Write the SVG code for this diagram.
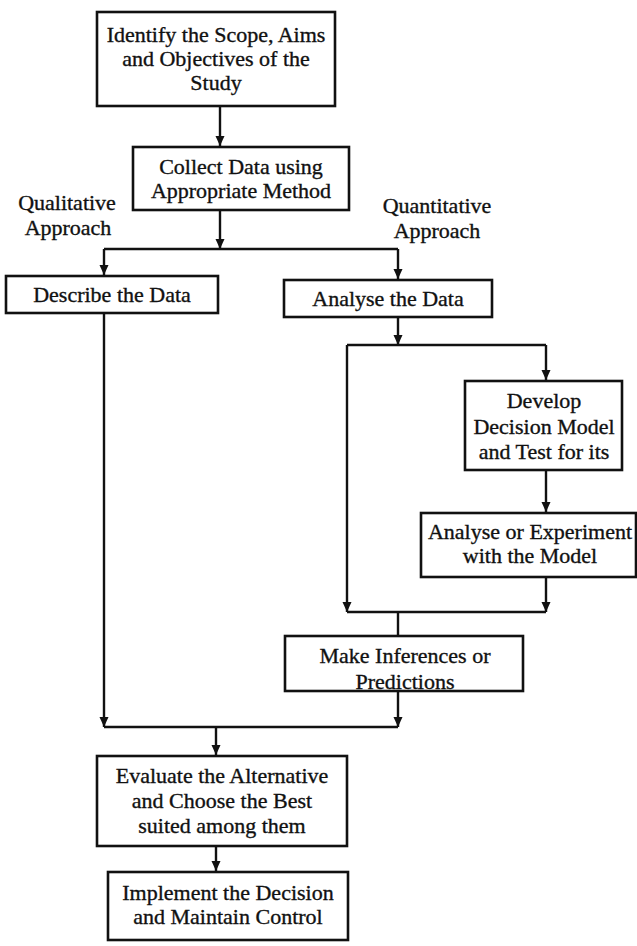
<svg xmlns="http://www.w3.org/2000/svg" width="637" height="946" viewBox="0 0 637 946">
<defs>
<style>
.box{fill:#fff;stroke:#111;stroke-width:2.6}
.t{font-family:"Liberation Serif","Times New Roman",serif;font-size:22px;fill:#111;stroke:#111;stroke-width:0.35;text-anchor:middle}
.c{fill:none;stroke:#111;stroke-width:2.4}
</style>
<marker id="ah" viewBox="0 0 10 10" refX="10" refY="5" markerWidth="10" markerHeight="10" markerUnits="userSpaceOnUse" orient="auto">
<path d="M0,0.5 L10,5 L0,9.5 z" fill="#111"/>
</marker>
</defs>
<rect width="637" height="946" fill="#fff"/>
<g id="connectors">
<path class="c" d="M220,106 V146" marker-end="url(#ah)"/>
<path class="c" d="M220,210 V249" marker-end="url(#ah)"/>
<path class="c" d="M104,249 H398"/>
<path class="c" d="M104,249 V275" marker-end="url(#ah)"/>
<path class="c" d="M398,249 V279" marker-end="url(#ah)"/>
<path class="c" d="M398,317 V345" marker-end="url(#ah)"/>
<path class="c" d="M347,345 H546"/>
<path class="c" d="M546,345 V380" marker-end="url(#ah)"/>
<path class="c" d="M347,345 V612" marker-end="url(#ah)"/>
<path class="c" d="M546,470 V512" marker-end="url(#ah)"/>
<path class="c" d="M546,577 V612" marker-end="url(#ah)"/>
<path class="c" d="M347,612 H546"/>
<path class="c" d="M398,612 V636"/>
<path class="c" d="M398,691 V727" marker-end="url(#ah)"/>
<path class="c" d="M104,313 V727" marker-end="url(#ah)"/>
<path class="c" d="M104,727 H398"/>
<path class="c" d="M216,727 V755" marker-end="url(#ah)"/>
<path class="c" d="M216,846 V871" marker-end="url(#ah)"/>
</g>
<g id="label-qualitative">
<text class="t" x="67" y="210">Qualitative</text>
<text class="t" x="68" y="235">Approach</text>
</g>
<g id="label-quantitative">
<text class="t" x="437" y="213">Quantitative</text>
<text class="t" x="437" y="238">Approach</text>
</g>
<g id="identify">
<rect class="box" x="97" y="12" width="238" height="94"/>
<text class="t" x="216" y="42">Identify the Scope, Aims</text>
<text class="t" x="216" y="66">and Objectives of the</text>
<text class="t" x="216" y="90">Study</text>
</g>
<g id="collect">
<rect class="box" x="133" y="147" width="216" height="63"/>
<text class="t" x="241" y="174">Collect Data using</text>
<text class="t" x="241" y="198">Appropriate Method</text>
</g>
<g id="describe">
<rect class="box" x="6" y="276" width="212" height="37"/>
<text class="t" x="112" y="302">Describe the Data</text>
</g>
<g id="analyse">
<rect class="box" x="284" y="280" width="208" height="37"/>
<text class="t" x="388" y="306">Analyse the Data</text>
</g>
<g id="develop">
<rect class="box" x="465" y="381" width="157" height="89"/>
<text class="t" x="544" y="408">Develop</text>
<text class="t" x="544" y="434">Decision Model</text>
<text class="t" x="544" y="459">and Test for its</text>
</g>
<g id="experiment">
<rect class="box" x="421" y="513" width="215" height="64"/>
<text class="t" x="530" y="539">Analyse or Experiment</text>
<text class="t" x="530" y="563">with the Model</text>
</g>
<g id="inferences">
<rect x="285" y="636" width="238" height="55" fill="#fff"/>
<text class="t" x="405" y="663">Make Inferences or</text>
<text class="t" x="405" y="689">Predictions</text>
<rect x="285" y="636" width="238" height="55" fill="none" stroke="#111" stroke-width="2.6"/>
</g>
<g id="evaluate">
<rect class="box" x="97" y="756" width="250" height="90"/>
<text class="t" x="222" y="783">Evaluate the Alternative</text>
<text class="t" x="222" y="808">and Choose the Best</text>
<text class="t" x="222" y="833">suited among them</text>
</g>
<g id="implement">
<rect class="box" x="108" y="872" width="240" height="68"/>
<text class="t" x="228" y="900">Implement the Decision</text>
<text class="t" x="228" y="924">and Maintain Control</text>
</g>
</svg>
